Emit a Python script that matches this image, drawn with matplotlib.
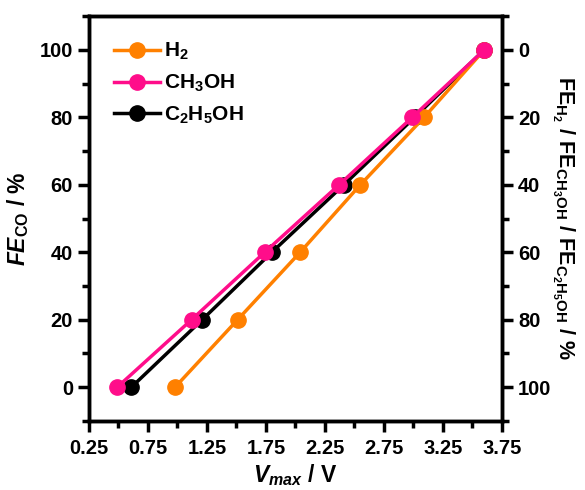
import numpy as np
import matplotlib
matplotlib.use('Agg')
import matplotlib.pyplot as plt
from matplotlib.ticker import MultipleLocator

plt.rcParams['font.family'] = 'Liberation Sans'
plt.rcParams['font.weight'] = 'bold'
plt.rcParams['axes.labelweight'] = 'bold'
plt.rcParams['mathtext.fontset'] = 'custom'
plt.rcParams['mathtext.rm'] = 'Liberation Sans:bold'
plt.rcParams['mathtext.it'] = 'Liberation Sans:bold:italic'
plt.rcParams['mathtext.bf'] = 'Liberation Sans:bold'

# FE_CO levels (%) and the V_max at which each is reached
fe_co = [0, 20, 40, 60, 80, 100]
v_h2 = [0.98, 1.51, 2.04, 2.55, 3.09, 3.60]
v_ch3oh = [0.49, 1.12, 1.74, 2.37, 2.99, 3.60]
v_c2h5oh = [0.61, 1.21, 1.80, 2.41, 3.01, 3.60]

fig = plt.figure(figsize=(5.85, 4.9), dpi=100)
ax = fig.add_axes([0.152, 0.141, 0.706, 0.826])

ax.plot(v_h2, fe_co, '-o', color='#ff8000', lw=2.5, ms=11, label=r'H$_2$')
ax.plot(v_ch3oh, fe_co, '-o', color='#ff0d8a', lw=2.5, ms=11, label=r'CH$_3$OH')
ax.plot(v_c2h5oh, fe_co, '-o', color='black', lw=2.5, ms=11, label=r'C$_2$H$_5$OH', zorder=1.9)

ax.set_xlim(0.25, 3.75)
ax.set_ylim(-10, 110)
ax.xaxis.set_minor_locator(MultipleLocator(0.25))
ax.yaxis.set_major_locator(MultipleLocator(20))
ax.yaxis.set_minor_locator(MultipleLocator(10))
xt = np.arange(0.25, 3.76, 0.5)
ax.set_xticks(xt)
ax.set_xticklabels(['%.2f' % v for v in xt])

ax2 = ax.twinx()
ax2.set_ylim(110, -10)
ax2.yaxis.set_major_locator(MultipleLocator(20))
ax2.yaxis.set_minor_locator(MultipleLocator(10))

for a in (ax, ax2):
    for s in a.spines.values():
        s.set_linewidth(2.5)
    a.tick_params(which='major', direction='out', length=8, width=2.5, labelsize=14.5)
    a.tick_params(which='minor', direction='out', length=5, width=2.5)
ax.tick_params(axis='x', pad=5)

ax.set_xlabel(r'$V_{max}$ / V', fontsize=16.5, labelpad=3)
ax.set_ylabel(r'$FE_{\mathrm{CO}}$ / %', fontsize=16.5, labelpad=6)
ax2.set_ylabel(r'$\mathrm{FE_{H_2}}$ / $\mathrm{FE_{CH_3OH}}$ / $\mathrm{FE_{C_2H_5OH}}$ / %',
               fontsize=15.5, rotation=-90, labelpad=18)

ax.legend(loc='upper left', frameon=False, fontsize=15, handlelength=2.2,
          handletextpad=0.2, labelspacing=0.5, borderaxespad=0.8)

fig.savefig('out.png', dpi=100)
